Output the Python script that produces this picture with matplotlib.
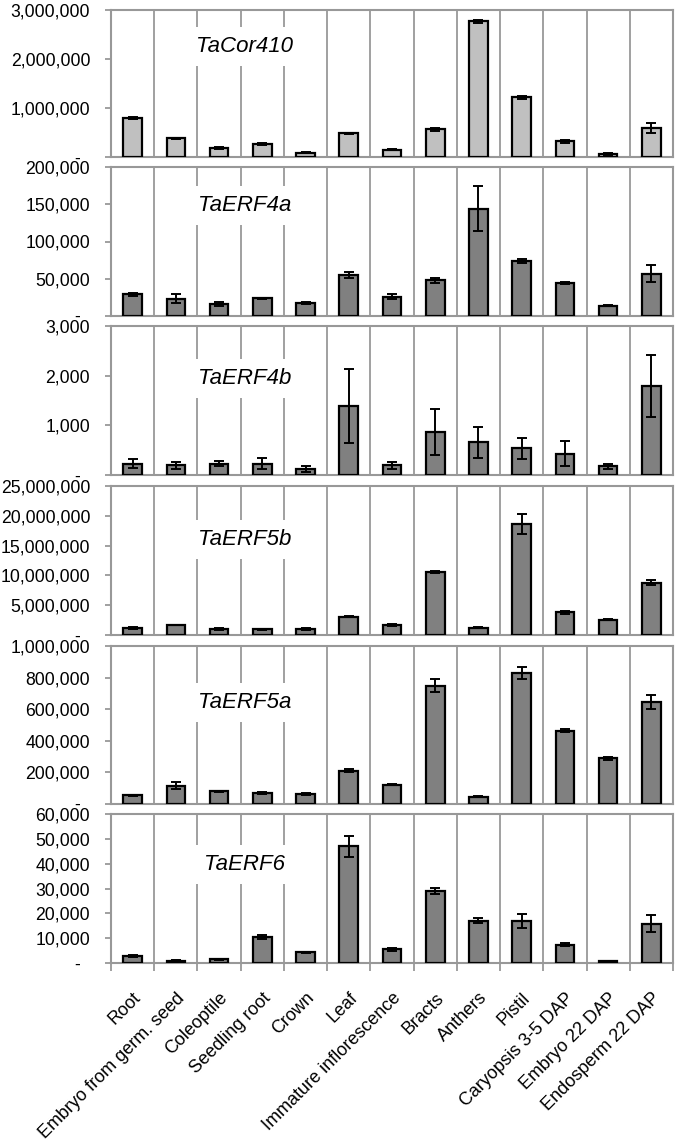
import numpy as np
import matplotlib
matplotlib.use("Agg")
import matplotlib.pyplot as plt
from matplotlib.ticker import FuncFormatter

plt.rcParams["font.family"] = ["Liberation Sans", "DejaVu Sans"]

# ── Data ─────────────────────────────────────────────────────
tissues = ["Root", "Embryo from germ. seed", "Coleoptile", "Seedling root", "Crown",
           "Leaf", "Immature inflorescence", "Bracts", "Anthers", "Pistil",
           "Caryopsis 3-5 DAP", "Embryo 22 DAP", "Endosperm 22 DAP"]

genes = ["TaCor410", "TaERF4a", "TaERF4b", "TaERF5b", "TaERF5a", "TaERF6"]

cor410_mean = [800000, 380000, 180000, 260000, 90000, 480000, 150000, 570000,
               2770000, 1220000, 320000, 60000, 600000]
cor410_err = [20000, 15000, 20000, 20000, 10000, 15000, 15000, 30000,
              30000, 30000, 30000, 15000, 100000]

erf4a_mean = [29000, 23000, 16000, 23500, 17500, 55000, 26000, 48000,
              144000, 74000, 44000, 14000, 57000]
erf4a_err = [2000, 6000, 3000, 1000, 1500, 4500, 3000, 3500,
             30000, 3000, 1500, 500, 11500]

erf4b_mean = [230, 200, 230, 230, 120, 1390, 200, 860, 660, 540, 430, 175, 1790]
erf4b_err = [90, 70, 50, 110, 55, 745, 70, 465, 315, 215, 255, 45, 625]

erf5b_mean = [1200000, 1700000, 950000, 950000, 950000, 3100000, 1700000, 10600000,
              1250000, 18600000, 3800000, 2600000, 8800000]
erf5b_err = [150000, 50000, 150000, 50000, 150000, 150000, 150000, 200000,
             50000, 1650000, 300000, 100000, 350000]

erf5a_mean = [55000, 115000, 80000, 70000, 63000, 210000, 122000, 750000,
              46000, 830000, 465000, 290000, 645000]
erf5a_err = [5000, 22000, 5000, 5000, 5000, 10000, 3000, 40000,
             2000, 39000, 12000, 10000, 45000]

erf6_mean = [2800, 1000, 1500, 10500, 4400, 47000, 5600, 29000,
             17000, 17000, 7400, 900, 15800]
erf6_err = [500, 400, 200, 800, 200, 4300, 600, 1300, 1000, 2900, 500, 100, 3500]

means = [cor410_mean, erf4a_mean, erf4b_mean, erf5b_mean, erf5a_mean, erf6_mean]
errs = [cor410_err, erf4a_err, erf4b_err, erf5b_err, erf5a_err, erf6_err]
ymax = [3000000, 200000, 3000, 25000000, 1000000, 60000]
ystep = [1000000, 50000, 1000, 5000000, 200000, 10000]
bar_colors = ["#c0c0c0", "#808080", "#808080", "#808080", "#808080", "#808080"]
label_y = [0.25, 0.26, 0.35, 0.36, 0.36, 0.34]

# ── Layout (pixel rows of each panel, top-origin) ────────────
W, H = 675, 1141
rows = [(10, 157), (167, 316), (326, 475), (486, 635), (646, 804), (814, 963)]
x0, x1 = 111, 673
grey = "#989898"


def fmt(v, pos):
    if v == 0:
        return "-  "
    return f"{v:,.0f}"


fig = plt.figure(figsize=(W / 100, H / 100), dpi=100)
x = np.arange(len(tissues))

for i, (top, bot) in enumerate(rows):
    ax = fig.add_axes([x0 / W, 1 - bot / H, (x1 - x0) / W, (bot - top) / H])
    ax.bar(x, means[i], width=0.43, color=bar_colors[i], edgecolor="black",
           linewidth=1.6, zorder=3)
    ax.errorbar(x, means[i], yerr=errs[i], fmt="none", ecolor="black",
                elinewidth=1.4, capsize=3.3, capthick=1.4, zorder=4)
    for b in np.arange(0.5, len(tissues) - 1, 1):
        ax.axvline(b, color=grey, linewidth=1.3, zorder=1)
    ax.set_xlim(-0.5, len(tissues) - 0.5)
    ax.set_ylim(0, ymax[i])
    ax.set_yticks(np.arange(0, ymax[i] + ystep[i] / 2, ystep[i]))
    ax.yaxis.set_major_formatter(FuncFormatter(fmt))
    for s in ax.spines.values():
        s.set_color(grey)
        s.set_linewidth(1.5)
    ax.tick_params(axis="y", direction="out", length=4, width=1.3, color=grey,
                   labelsize=12.7, pad=11)
    ax.text(0.238, 1 - label_y[i], genes[i], transform=ax.transAxes,
            fontsize=16, style="italic", ha="center", va="center", zorder=6,
            bbox=dict(boxstyle="square,pad=0.4", facecolor="white", edgecolor="none"))
    if i == len(rows) - 1:
        ax.set_xticks(x)
        ax.set_xticklabels(tissues, rotation=45, ha="right", va="top",
                           rotation_mode="anchor", fontsize=13)
        ax.tick_params(axis="x", which="major", length=0, pad=19)
        ax.set_xticks(np.arange(-0.5, len(tissues), 1), minor=True)
        ax.tick_params(axis="x", which="minor", direction="out", length=6,
                       width=1.3, color=grey)
    else:
        ax.set_xticks([])

fig.savefig("out.png", dpi=100)
